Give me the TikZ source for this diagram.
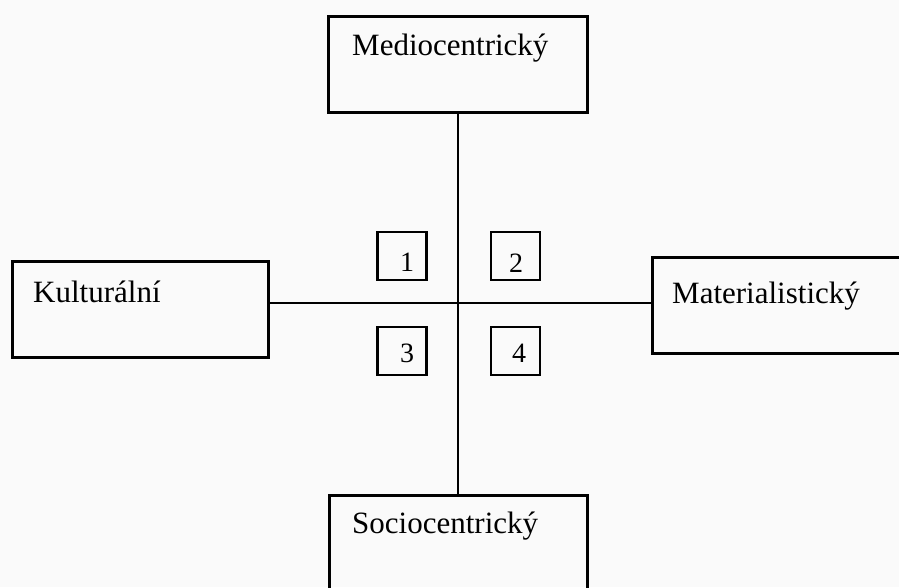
\documentclass[tikz,border=0pt]{standalone}
\usepackage{fontspec}
\setmainfont{Liberation Serif}
\begin{document}
\begin{tikzpicture}[x=1pt,y=-1pt,
  bigbox/.style={draw, line width=3pt, rectangle, inner sep=0pt},
  numbox/.style={draw, line width=2.2pt, rectangle, inner sep=0pt, minimum width=49pt, minimum height=48pt},
  lbl/.style={font=\fontsize{31}{31}\selectfont, inner sep=0pt, anchor=base west},
  num/.style={font=\fontsize{28}{28}\selectfont, inner sep=0pt},
  wire/.style={line width=2.6pt}]
\useasboundingbox (0,0) rectangle (899,587);
\fill[black!2] (0,0) rectangle (899,587);
\begin{scope}
\clip (0,0) rectangle (899,587);
% big boxes
\node[bigbox, minimum width=259pt, minimum height=96pt] (top) at (458,64) {};
\node[bigbox, minimum width=256pt, minimum height=96pt] (left) at (140,309) {};
\node[bigbox, minimum width=256pt, minimum height=96pt] (right) at (780,305) {};
\node[bigbox, minimum width=258pt, minimum height=110pt] (bottom) at (458,550) {};
% labels
\node[lbl] (ttop) at (352,55) {Mediocentrický};
\node[lbl] (tleft) at (33,302) {Kulturální};
\node[lbl] (tright) at (672,303) {Materialistický};
\node[lbl] (tbottom) at (352,533) {Sociocentrický};
% cross
\coordinate (c) at (458,303);
\draw[wire] (top.south) -- (c) -- (bottom.north);
\draw[wire] (left.east |- c) -- (right.west |- c);
% small numbered boxes
\node[numbox] (b1) at (402,256) {};
\node[numbox] (b2) at (515.5,256) {};
\node[numbox] (b3) at (402,351) {};
\node[numbox] (b4) at (515.5,351) {};
\node[num] (n1) at (407,262) {1};
\node[num] (n2) at (516,263) {2};
\node[num] (n3) at (407,353) {3};
\node[num] (n4) at (519,353) {4};
\end{scope}
\end{tikzpicture}
\end{document}
